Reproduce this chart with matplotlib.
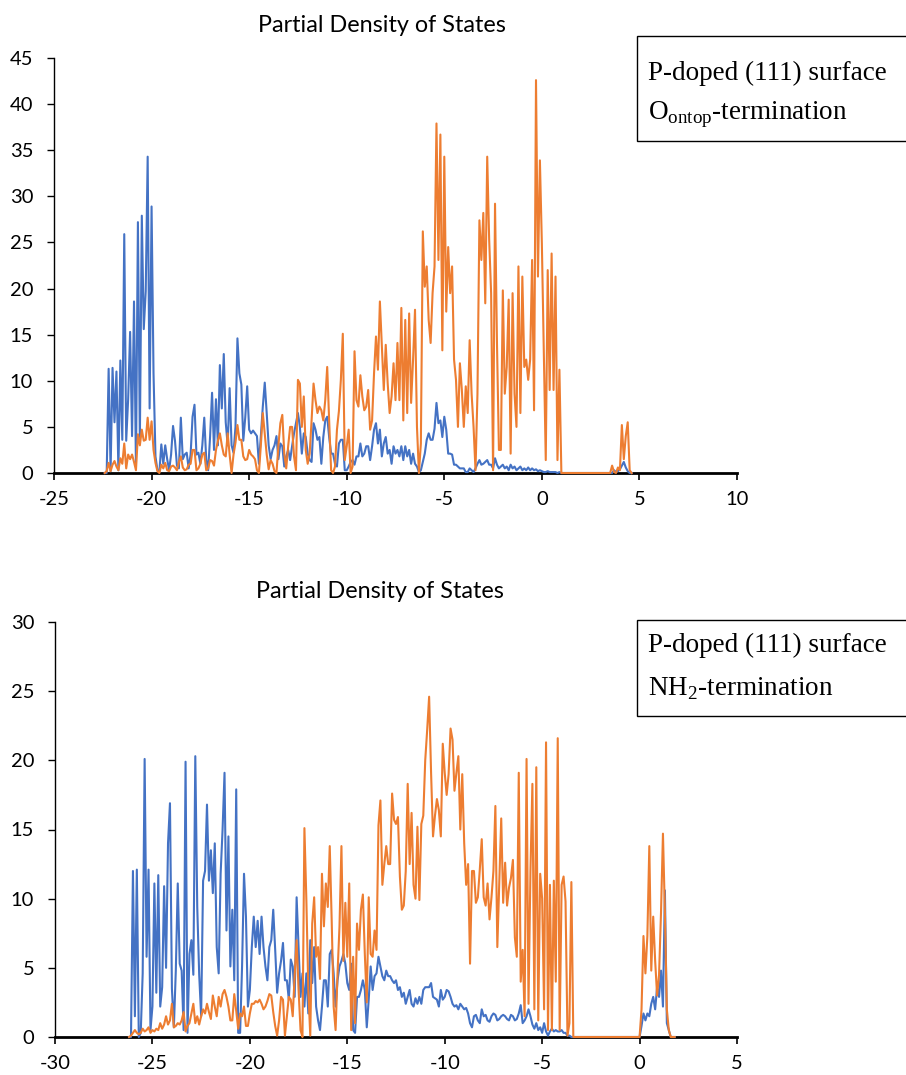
import numpy as np
import matplotlib.pyplot as plt
from matplotlib.patches import Rectangle

plt.rcParams['mathtext.fontset'] = 'custom'
plt.rcParams['mathtext.rm'] = 'Liberation Serif'
plt.rcParams['axes.unicode_minus'] = False

# 1. data (PDOS, 0.1 eV grid)
step = 0.1

# top panel: O-ontop termination, grid starts at -22.4 eV
top_start = -22.4
top_blue = [
    0, 0, 11.3, 0.2, 11.4, 5.5, 11.0, 0.3, 12.2, 3.6,
    25.9, 3.5, 8.0, 15.3, 4.0, 18.6, 0.7, 27.2, 3.6, 27.9,
    15.6, 19.7, 34.3, 7.0, 28.9, 10.8, 1.8, 0.3, 0.1, 3.1,
    1.0, 3.0, 1.5, 0.3, 2.0, 5.1, 3.5, 0.8, 0.5, 6.0,
    1.5, 2.0, 2.2, 0.5, 2.0, 6.1, 7.4, 2.0, 2.2, 1.0,
    3.0, 6.0, 1.5, 0.3, 4.0, 8.7, 2.5, 8.0, 3.0, 11.7,
    7.0, 12.9, 5.5, 3.0, 9.2, 3.0, 2.2, 5.0, 14.6, 10.8,
    9.6, 3.5, 6.0, 9.4, 4.7, 4.3, 4.6, 4.3, 4.0, 1.0,
    4.0, 7.2, 9.8, 6.5, 3.0, 1.5, 2.5, 3.0, 4.0, 1.5,
    3.2, 2.9, 0.7, 1.8, 2.5, 1.4, 2.9, 4.3, 5.4, 6.5,
    5.0, 2.1, 4.3, 3.9, 2.1, 1.4, 1.2, 5.4, 4.7, 3.6,
    3.9, 1.0, 3.9, 5.7, 6.1, 3.9, 2.1, 2.1, 1.0, 0.7,
    3.2, 3.6, 3.6, 0.3, 0.3, 0.7, 1.2, 1.4, 0.9, 1.8,
    1.8, 3.2, 1.8, 2.1, 2.9, 2.9, 1.4, 2.9, 4.7, 5.4,
    3.2, 4.7, 1.8, 3.2, 3.9, 2.1, 2.5, 1.0, 2.9, 2.1,
    2.5, 1.8, 2.9, 1.4, 2.9, 1.8, 2.5, 1.0, 2.1, 1.0,
    0.7, 0.1, 0.3, 1.2, 2.1, 3.6, 4.3, 3.6, 3.6, 4.8,
    7.6, 5.4, 5.7, 3.9, 6.1, 4.7, 2.1, 2.1, 2.0, 0.9,
    0.9, 0.7, 0.5, 0.5, 0.5, 0.1, 0.1, 0.5, 0.3, 0.1,
    0.5, 1.0, 1.4, 0.9, 1.0, 1.2, 1.4, 0.9, 0.9, 0.5,
    1.6, 0.9, 0.5, 0.7, 0.9, 0.5, 0.7, 0.3, 0.9, 0.5,
    0.7, 0.3, 0.5, 0.7, 0.3, 0.5, 0.3, 0.6, 0.3, 0.5,
    0.3, 0.4, 0.2, 0.3, 0.2, 0.1, 0.1, 0.2, 0.1, 0.1,
    0.1, 0.1, 0.0, 0.1, 0.0, 0, 0, 0, 0, 0,
    0, 0, 0, 0, 0, 0, 0, 0, 0, 0,
    0, 0, 0, 0, 0, 0, 0, 0, 0, 0,
    0, 0.3, 0.1, 0.2, 0.4, 0.8, 1.2, 0.6, 0.2, 0, 0,
]
top_orange = [
    0, 0.2, 1.1, 0.2, 0.9, 1.3, 0.7, 0.3, 1.6, 1.0,
    3.2, 0.5, 2.0, 1.5, 2.0, 1.2, 0.3, 4.2, 3.0, 4.7,
    3.5, 3.6, 6.0, 3.6, 5.6, 2.5, 1.1, 0.2, 0.0, 0.9,
    0.5, 1.1, 0.3, 0.2, 0.7, 0.8, 0.6, 0.3, 1.2, 1.8,
    0.6, 0.3, 0.4, 0.9, 1.0, 2.5, 2.5, 0.3, 0.5, 1.0,
    2.0, 2.2, 0.3, 0.5, 1.4, 1.3, 0.8, 2.5, 3.5, 4.3,
    3.0, 2.0, 1.8, 4.3, 2.0, 0.0, 2.0, 3.3, 5.2, 3.6,
    3.6, 1.8, 1.4, 1.5, 2.5, 2.0, 1.8, 1.5, 0.3, 0.0,
    3.0, 6.5, 4.3, 2.0, 0.4, 1.4, 1.0, 0.2, 0.0, 3.0,
    5.4, 6.3, 2.1, 0.5, 2.9, 5.0, 5.0, 1.8, 0.3, 10.1,
    9.7, 5.0, 8.3, 2.5, 1.0, 2.1, 5.7, 9.7, 7.9, 6.5,
    7.2, 6.8, 5.7, 7.9, 11.5, 5.7, 0.3, 0.0, 0.7, 4.7,
    6.7, 10.1, 15.1, 1.4, 2.9, 4.7, 0.0, 0.7, 13.2, 7.9,
    7.2, 10.6, 8.3, 6.8, 7.2, 9.0, 4.7, 5.7, 10.8, 14.8,
    11.2, 18.6, 13.7, 9.0, 13.9, 9.7, 6.5, 8.3, 11.9, 7.9,
    14.1, 7.9, 17.9, 5.7, 16.6, 6.5, 17.3, 7.6, 12.3, 17.7,
    5.0, 0.0, 3.2, 26.2, 20.2, 22.4, 16.6, 14.1, 19.5, 22.4,
    37.9, 23.1, 36.7, 13.3, 34.3, 17.5, 24.5, 19.5, 22.4, 12.3,
    10.1, 5.0, 11.9, 9.0, 5.0, 9.4, 6.5, 14.4, 8.6, 5.0,
    0.3, 8.6, 27.4, 23.1, 28.2, 18.4, 34.3, 25.3, 19.5, 0.3,
    29.2, 14.1, 2.5, 2.5, 19.8, 8.6, 11.5, 18.8, 2.1, 19.5,
    8.6, 5.0, 22.4, 6.5, 21.3, 11.5, 12.3, 10.1, 12.3, 23.1,
    6.8, 42.6, 21.3, 33.9, 24.9, 13.0, 1.4, 22.0, 9.0, 23.8,
    9.0, 21.3, 1.4, 11.2, 0.0, 0, 0, 0, 0, 0,
    0, 0, 0, 0, 0, 0, 0, 0, 0, 0,
    0, 0, 0, 0, 0, 0, 0, 0, 0, 0,
    0.8, 0.1, 0.0, 0.6, 0.3, 5.2, 1.5, 4.0, 5.5, 0.3, 0.0,
]

# bottom panel: NH2 termination, grid starts at -26.2 eV
bot_start = -26.2
bot_blue = [
    0, 0, 12.0, 1.5, 12.1, 0, 0.3, 4.6, 20.1, 5.8,
    12.1, 0.5, 2.2, 11.1, 3.2, 11.7, 2.2, 3.6, 10.9, 5.0,
    14.0, 16.9, 3.5, 0.7, 4.8, 11.1, 5.3, 4.8, 0.5, 19.9,
    0.3, 6.0, 7.0, 4.5, 20.3, 9.4, 4.5, 1.5, 11.3, 12.0,
    16.8, 11.3, 13.5, 10.4, 14.0, 6.5, 4.6, 11.8, 15.0, 19.1,
    7.7, 14.5, 5.1, 9.2, 4.1, 17.9, 0.3, 0.3, 5.1, 11.8,
    8.7, 2.2, 3.4, 6.5, 8.7, 6.5, 8.4, 6.0, 8.7, 6.5,
    5.1, 4.1, 6.5, 7.0, 9.2, 6.3, 3.2, 4.6, 5.5, 6.8,
    4.1, 4.1, 2.7, 5.6, 5.1, 2.9, 10.1, 6.5, 2.9, 4.6,
    2.2, 4.6, 1.7, 7.0, 3.9, 6.5, 2.2, 1.2, 0.5, 2.2,
    4.1, 4.1, 2.2, 6.0, 6.3, 4.6, 2.2, 4.1, 5.1, 5.5,
    6.0, 5.3, 3.9, 3.4, 5.3, 0.5, 0.3, 2.9, 2.9, 3.4,
    4.1, 3.4, 0.7, 2.7, 5.1, 3.4, 4.4, 4.6, 5.8, 5.1,
    4.4, 4.1, 4.8, 4.4, 4.4, 4.1, 3.9, 4.1, 3.4, 3.6,
    2.9, 3.2, 2.4, 2.9, 3.4, 2.4, 2.2, 2.8, 2.4, 2.9,
    2.4, 3.4, 3.6, 3.6, 3.6, 3.9, 2.9, 2.8, 2.7, 2.2,
    3.4, 2.7, 2.9, 3.4, 3.3, 2.9, 2.4, 2.2, 2.3, 2.0,
    2.4, 2.2, 2.0, 2.1, 1.7, 1.0, 0.7, 1.5, 1.6, 1.2,
    1.0, 2.0, 1.5, 1.6, 1.2, 1.1, 1.5, 1.7, 1.6, 1.2,
    1.3, 1.5, 1.6, 1.5, 1.3, 1.2, 1.6, 1.5, 1.2, 1.3,
    1.7, 2.3, 1.0, 1.2, 1.5, 2.0, 1.5, 0.9, 0.6, 1.0,
    0.5, 0.7, 0.3, 1.0, 0.4, 0.1, 0.4, 0.6, 0.4, 0.5,
    0.4, 0.4, 0.5, 0.3, 0.3, 0.1, 0.1, 0.0, 0, 0,
    0, 0, 0, 0, 0, 0, 0, 0, 0, 0,
    0, 0, 0, 0, 0, 0, 0, 0, 0, 0,
    0, 0, 0, 0, 0, 0, 0, 0, 0, 0,
    0, 0, 0, 0.8, 1.7, 1.2, 1.7, 1.5, 2.4, 2.9,
    2.0, 3.6, 2.9, 4.8, 2.2, 10.6, 1.0, 0.5, 0.0, 0.0,
    0.0,
]
bot_orange = [
    0, 0.1, 0.3, 0.5, 0.3, 0.2, 0.3, 0.6, 0.4, 0.5,
    0.7, 0.3, 0.5, 0.4, 0.6, 0.5, 1.0, 0.6, 0.9, 1.5,
    0.9, 1.2, 2.4, 0.7, 0.8, 1.0, 0.9, 1.2, 1.8, 0.4,
    0.8, 1.0, 1.7, 2.4, 1.0, 1.5, 0.9, 1.5, 2.0, 1.7,
    2.4, 1.8, 1.3, 3.0, 2.2, 1.5, 2.9, 2.2, 3.1, 3.4,
    2.9, 2.2, 1.2, 1.2, 3.1, 1.9, 0.6, 1.7, 1.5, 2.2,
    0.8, 0.8, 1.7, 2.4, 2.4, 2.6, 2.5, 2.7, 2.4, 2.0,
    2.2, 2.6, 3.1, 3.0, 1.8, 0.8, 0.1, 1.2, 2.9, 2.7,
    0.1, 1.5, 2.9, 2.7, 1.5, 4.5, 7.0, 3.4, 0.5, 0.0,
    15.1, 9.9, 3.4, 0.1, 8.2, 10.1, 5.8, 6.5, 4.2, 11.8,
    8.0, 11.1, 9.4, 13.8, 8.4, 2.2, 0.5, 4.6, 8.0, 13.8,
    5.5, 9.7, 5.8, 11.1, 0.5, 5.8, 1.0, 8.2, 6.3, 9.2,
    10.3, 6.0, 2.5, 10.1, 6.0, 5.8, 7.7, 6.3, 15.3, 17.1,
    11.0, 12.5, 13.8, 12.5, 12.5, 17.6, 15.7, 15.4, 15.9, 11.6,
    9.2, 9.5, 12.0, 18.3, 12.5, 16.2, 11.0, 10.0, 15.2, 9.9,
    15.4, 16.0, 20.0, 22.2, 24.6, 19.1, 14.5, 16.0, 17.2, 16.4,
    14.5, 21.2, 19.1, 17.5, 19.0, 22.3, 21.5, 17.8, 19.1, 20.3,
    15.0, 19.0, 14.0, 11.0, 12.5, 5.3, 12.0, 12.0, 9.7, 10.1,
    12.1, 14.3, 10.1, 9.5, 11.1, 8.5, 10.1, 12.0, 16.7, 6.5,
    11.2, 15.8, 9.7, 12.6, 9.5, 10.8, 11.5, 12.8, 7.2, 5.8,
    19.1, 4.0, 6.3, 1.5, 20.1, 2.4, 12.0, 18.3, 2.0, 19.5,
    1.2, 11.8, 10.0, 2.0, 21.3, 0.5, 11.0, 0.5, 11.3, 4.0,
    21.6, 0.5, 11.0, 11.6, 9.8, 0.1, 1.0, 11.2, 0, 0,
    0, 0, 0, 0, 0, 0, 0, 0, 0, 0,
    0, 0, 0, 0, 0, 0, 0, 0, 0, 0,
    0, 0, 0, 0, 0, 0, 0, 0, 0, 0,
    0, 0, 0, 2.0, 7.3, 4.6, 7.3, 13.8, 4.8, 8.7,
    5.5, 3.0, 4.5, 9.0, 14.7, 9.0, 2.0, 0.5, 0.0, 0.0,
    0.0,
]

title = 'Partial Density of States'
top_labels = ['P-doped (111) surface', r'O$_{\mathrm{ontop}}$-termination']
bot_labels = ['P-doped (111) surface', r'NH$_{\mathrm{2}}$-termination']

blue = '#4472C4'
orange = '#ED7D31'

# 2. figure
W, H = 906, 1075
fig = plt.figure(figsize=(W / 100, H / 100), dpi=100)


def px_box(x0, y0, x1, y1):
    # pixel box (top-left origin) -> figure fraction rect
    return [x0 / W, 1 - y1 / H, (x1 - x0) / W, (y1 - y0) / H]


def style(ax, xlim, ylim, xticks, yticks):
    ax.set_xlim(*xlim)
    ax.set_ylim(*ylim)
    ax.set_xticks(xticks)
    ax.set_yticks(yticks)
    ax.spines['top'].set_visible(False)
    ax.spines['right'].set_visible(False)
    ax.spines['bottom'].set_linewidth(2.0)
    ax.spines['left'].set_linewidth(1.0)
    ax.tick_params(axis='x', direction='out', length=5, width=1.2, pad=8, labelsize=14.5)
    ax.tick_params(axis='y', direction='out', length=5, width=1.0, pad=10, labelsize=14.5)
    for lab in ax.get_xticklabels() + ax.get_yticklabels():
        lab.set_family('Lato')


def panel(rect, start, yb, yo, xlim, ylim, xticks, yticks):
    ax = fig.add_axes(rect)
    xb = start + step * np.arange(len(yb))
    xo = start + step * np.arange(len(yo))
    ax.plot(xb, yb, color=blue, lw=1.5, zorder=3, clip_on=False)
    ax.plot(xo, yo, color=orange, lw=1.5, zorder=3.1, clip_on=False)
    style(ax, xlim, ylim, xticks, yticks)
    return ax


ax1 = panel(px_box(54, 58, 737, 473), top_start, top_blue, top_orange,
            (-25, 10), (0, 45), np.arange(-25, 11, 5), np.arange(0, 46, 5))
ax2 = panel(px_box(55, 622, 737, 1037), bot_start, bot_blue, bot_orange,
            (-30, 5), (0, 30), np.arange(-30, 6, 5), np.arange(0, 31, 5))

# titles
fig.text(382 / W, 1 - 25 / H, title, ha='center', va='center', fontsize=16.8, family='Lato')
fig.text(380 / W, 1 - 591 / H, title, ha='center', va='center', fontsize=16.8, family='Lato')

# text boxes
for (y0, y1, l1, l2, labels) in [(36, 141, 73, 115, top_labels), (620, 716, 645, 689, bot_labels)]:
    fig.add_artist(Rectangle((637 / W, 1 - y1 / H), 0.4, (y1 - y0) / H,
                             transform=fig.transFigure, facecolor='white',
                             edgecolor='black', lw=1.0))
    fig.text(648 / W, 1 - l1 / H, labels[0], va='center', ha='left',
             fontsize=19.5, family='Liberation Serif')
    fig.text(648 / W, 1 - l2 / H, labels[1], va='center', ha='left',
             fontsize=19.5, family='Liberation Serif')

fig.savefig('out.png', dpi=100)
